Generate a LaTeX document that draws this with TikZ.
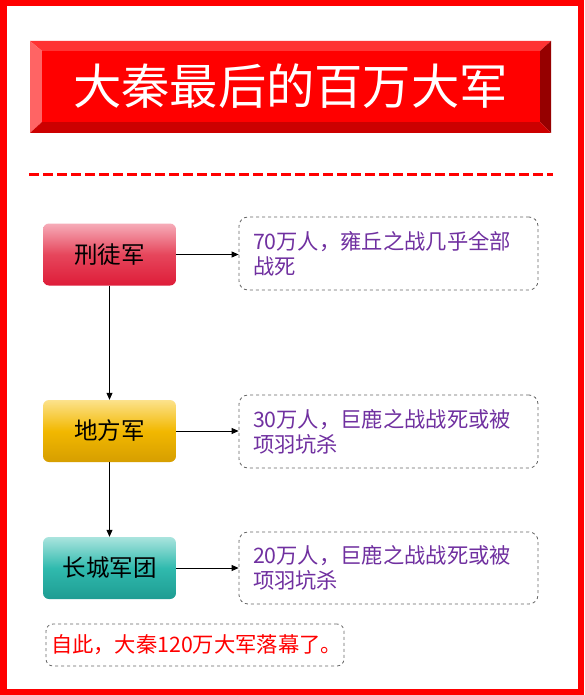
\documentclass[tikz,border=0pt]{standalone}
\usepackage{fontspec}
\setmainfont{Noto Sans CJK SC}
\usetikzlibrary{arrows.meta}
\definecolor{frame}{RGB}{255,0,0}
\definecolor{txtpurple}{RGB}{112,48,160}
\definecolor{bevT}{RGB}{255,51,51}
\definecolor{bevL}{RGB}{255,100,100}
\definecolor{bevR}{RGB}{150,0,0}
\definecolor{bevB}{RGB}{204,0,0}
\tikzset{
  lbox/.style={rounded corners=6pt, minimum width=133pt, minimum height=62pt, inner sep=0pt,
    font=\fontsize{23.5}{26}\selectfont, text=black},
  rbox/.style={draw=black!60, dashed, line width=0.8pt, rounded corners=9pt, minimum width=299pt,
    minimum height=73pt, inner xsep=14pt, inner ysep=0pt, text width=271pt, align=left,
    font=\fontsize{21.3}{25}\selectfont, text=txtpurple},
  conn/.style={-{Triangle[length=7pt,width=6pt]}, line width=0.8pt, black}
}
\begin{document}
\begin{tikzpicture}[x=1pt,y=-1pt]
\useasboundingbox (0,0) rectangle (584,695);
\fill[white] (0,0) rectangle (584,695);
\draw[frame, line width=6.5pt] (3.25,3.25) rectangle (580.75,691.75);
% title banner
\fill[bevT] (30,41) -- (551,41) -- (540,51) -- (42,51) -- cycle;
\fill[bevL] (30,41) -- (42,51) -- (42,122) -- (30,133) -- cycle;
\fill[bevR] (551,41) -- (551,133) -- (540,122) -- (540,51) -- cycle;
\fill[bevB] (30,133) -- (42,122) -- (540,122) -- (551,133) -- cycle;
\fill[frame] (42,51) rectangle (540,122);
\node[text=white, font=\fontsize{48.3}{52}\selectfont, inner sep=0pt] (title) at (290.5,86) {大秦最后的百万大军};
% dashed rule
\draw[frame, line width=3pt, dash pattern=on 10pt off 4pt] (29,174) -- (553,174);
% left boxes
\node[lbox, top color={rgb,255:red,246;green,172;blue,184}, bottom color={rgb,255:red,222;green,28;blue,56}, middle color={rgb,255:red,230;green,70;blue,92}] (b1) at (109.5,254.5) {刑徒军};
\node[lbox, top color={rgb,255:red,252;green,226;blue,140}, bottom color={rgb,255:red,214;green,158;blue,0}, middle color={rgb,255:red,242;green,184;blue,0}] (b2) at (109.5,431) {地方军};
\node[lbox, top color={rgb,255:red,170;green,228;blue,222}, bottom color={rgb,255:red,30;green,156;blue,146}, middle color={rgb,255:red,48;green,186;blue,174}] (b3) at (109.5,568) {长城军团};
% right boxes
\node[rbox] (r1) at (388.5,253.5) {70万人，雍丘之战几乎全部\\战死};
\node[rbox] (r2) at (388.5,431.5) {30万人，巨鹿之战战死或被\\项羽坑杀};
\node[rbox, minimum height=72pt] (r3) at (388.5,568) {20万人，巨鹿之战战死或被\\项羽坑杀};
% bottom note
\node[draw=black!60, dashed, line width=0.8pt, rounded corners=7pt, minimum width=298pt, minimum height=42pt,
  inner xsep=5pt, inner ysep=0pt, text width=288pt, align=left, text=frame,
  font=\fontsize{21.3}{25}\selectfont] (note) at (195,645) {自此，大秦120万大军落幕了。};
% connectors
\draw[conn] (b1) -- (b2);
\draw[conn] (b2) -- (b3);
\draw[conn] (b1.east) -- (r1.west |- b1.east);
\draw[conn] (b2.east) -- (r2.west |- b2.east);
\draw[conn] (b3.east) -- (r3.west |- b3.east);
\end{tikzpicture}
\end{document}
